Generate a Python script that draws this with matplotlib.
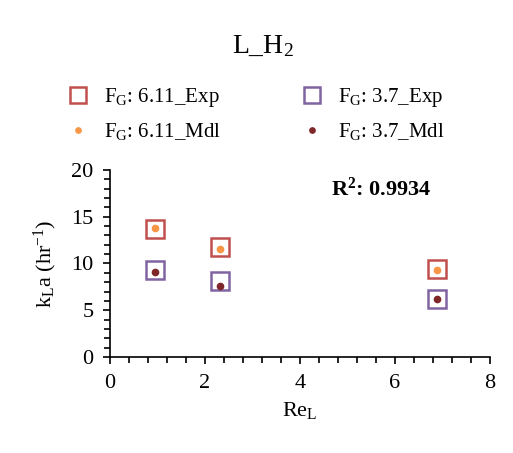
import numpy as np
import matplotlib
matplotlib.use("Agg")
import matplotlib.pyplot as plt
from matplotlib.ticker import MultipleLocator

plt.rcParams['font.family'] = ['Liberation Serif', 'DejaVu Serif']
plt.rcParams['mathtext.fontset'] = 'custom'
plt.rcParams['mathtext.rm'] = 'Liberation Serif'
plt.rcParams['mathtext.it'] = 'Liberation Serif'
plt.rcParams['mathtext.bf'] = 'Liberation Serif:bold'

# data
re_l = [0.95, 2.32, 6.88]
exp_611 = [13.7, 11.8, 9.4]
exp_37 = [9.3, 8.1, 6.2]
mdl_611 = [13.8, 11.6, 9.3]
mdl_37 = [9.1, 7.6, 6.2]
r2_text = "R$^{\\mathbf{2}}$: 0.9934"

fig = plt.figure(figsize=(5.13, 4.53), dpi=100)
ax = fig.add_axes([0.2144, 0.212, 0.7406, 0.4127])

sq = dict(marker="s", linestyle="none", markersize=13, markerfacecolor="none",
          markeredgewidth=1.8)
h1, = ax.plot(re_l, exp_611, color="#C0504D", label="F$_\\mathrm{G}$: 6.11_Exp", **sq)
h2, = ax.plot(re_l, exp_37, color="#8064A2", label="F$_\\mathrm{G}$: 3.7_Exp", **sq)
h3, = ax.plot(re_l, mdl_611, "o", color="#F79646", markersize=4.5,
              label="F$_\\mathrm{G}$: 6.11_Mdl")
h4, = ax.plot(re_l, mdl_37, "o", color="#7F2628", markersize=4.5,
              label="F$_\\mathrm{G}$: 3.7_Mdl")

ax.set_xlim(0, 8)
ax.set_ylim(0, 20)
ax.xaxis.set_major_locator(MultipleLocator(2))
ax.xaxis.set_minor_locator(MultipleLocator(0.4))
ax.yaxis.set_major_locator(MultipleLocator(5))
ax.yaxis.set_minor_locator(MultipleLocator(1))
ax.tick_params(which="major", direction="out", length=5, width=1.2,
               labelsize=16, pad=7)
ax.tick_params(which="minor", direction="out", length=4, width=1.2)
for s in ["top", "right"]:
    ax.spines[s].set_visible(False)
for s in ["left", "bottom"]:
    ax.spines[s].set_linewidth(1.2)

ax.set_xlabel("Re$_\\mathrm{L}$", fontsize=16, labelpad=5)
ax.set_ylabel("k$_\\mathrm{L}$a (hr$^{-1}$)", fontsize=16, labelpad=9)
ax.text(0.713, 0.9, r2_text, transform=ax.transAxes, fontsize=16,
        fontweight="bold", ha="center", va="center")

fig.text(0.513, 0.898, "L_H$_\\mathrm{2}$", fontsize=20, ha="center", va="center")

fig.legend(handles=[h1, h3, h2, h4], loc="center", ncol=2,
           bbox_to_anchor=(0.495, 0.748), frameon=False, fontsize=15,
           columnspacing=3.6, handletextpad=0.5, labelspacing=0.6,
           markerscale=0.85, handlelength=1.5)

fig.savefig("out.png", dpi=100)
